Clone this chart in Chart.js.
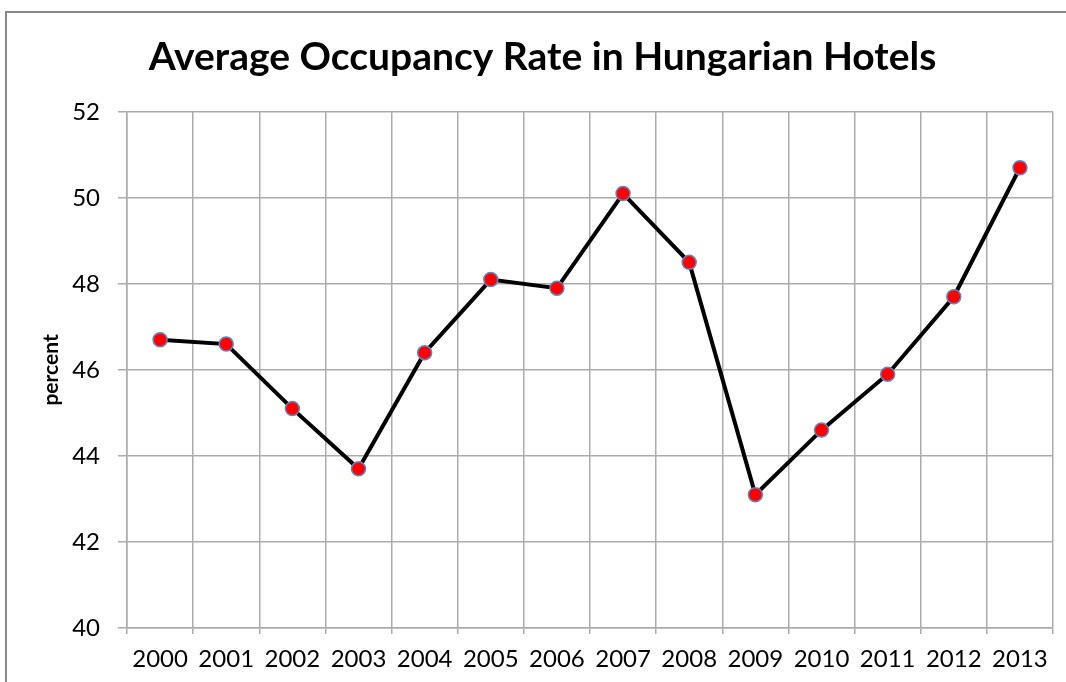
<!DOCTYPE html>
<html><head><meta charset="utf-8">
<script src="https://cdn.jsdelivr.net/npm/chart.js@4/dist/chart.umd.min.js"></script>
<style>
html,body{margin:0;padding:0;background:#fff;}
#wrap{position:relative;width:1066px;height:682px;overflow:hidden;}
#frame{position:absolute;left:5px;top:11px;width:2000px;height:2000px;border-left:2px solid #888;border-top:2px solid #888;}
canvas{position:absolute;left:0;top:0;}
</style></head>
<body><div id="wrap"><div id="frame"></div><canvas id="c" width="1066" height="682"></canvas></div>
<script>
const years = ['2000','2001','2002','2003','2004','2005','2006','2007','2008','2009','2010','2011','2012','2013'];
const occupancy = [46.7, 46.6, 45.1, 43.7, 46.4, 48.1, 47.9, 50.1, 48.5, 43.1, 44.6, 45.9, 47.7, 50.7];
const yMin = 40, yMax = 52, yStep = 2;

Chart.defaults.font.family = 'Lato, "Open Sans", sans-serif';
new Chart(document.getElementById('c'), {
  type: 'line',
  data: { labels: years, datasets: [{
    data: occupancy,
    borderColor: '#000', borderWidth: 4,
    pointRadius: 7, pointBackgroundColor: '#ff0000',
    pointBorderColor: '#5b87c5', pointBorderWidth: 1.5,
    tension: 0
  }]},
  options: {
    responsive: false, animation: false,
    layout: { padding: { left: 32, right: 13, top: 0, bottom: 0 } },
    plugins: {
      legend: { display: false },
      tooltip: { enabled: false },
      title: { display: true, text: 'Average Occupancy Rate in Hungarian Hotels',
        color: '#000', font: { size: 39, weight: 'bold' }, padding: { top: 34, bottom: 31 } }
    },
    scales: {
      x: {
        offset: true,
        afterFit: (s) => { s.height = 54; },
        grid: { offset: true, color: '#ababab', lineWidth: 1.5, tickLength: 6 },
        border: { color: '#ababab', width: 1.5 },
        ticks: { color: '#000', font: { size: 24 }, padding: 11, maxRotation: 0, autoSkip: false }
      },
      y: {
        min: yMin, max: yMax,
        afterFit: (s) => { s.width = 95; },
        grid: { color: '#ababab', lineWidth: 1.5, tickLength: 9 },
        border: { color: '#ababab', width: 1.5 },
        ticks: { stepSize: yStep, color: '#000', font: { size: 24 }, padding: 18 },
        title: { display: true, text: 'percent', color: '#000', font: { size: 21, weight: 'bold' }, padding: 7 }
      }
    }
  }
});
</script></body></html>
